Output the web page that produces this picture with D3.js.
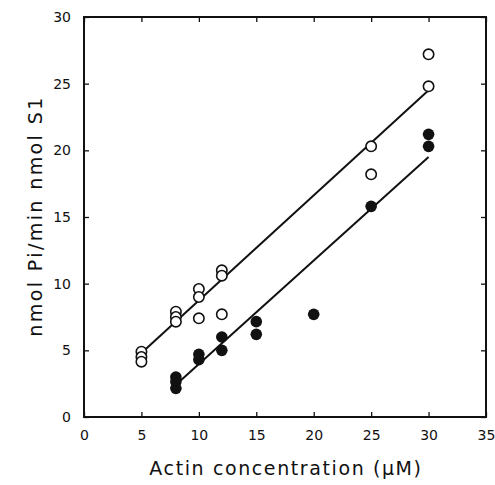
<!DOCTYPE html>
<html lang="en">
    <head>
        <meta charset="utf-8">
        <title>Actin ATPase</title>
        <script src="https://d3js.org/d3.v7.min.js"></script>
        <style type="text/css">
            body { margin: 0; background: #fff; }
            text { font-family: "DejaVu Sans", sans-serif; fill: #111; }
        </style>
    </head>
    <body>
        <script type="text/javascript">

            //consts
            const w = 495;
            const h = 485;
            const mLeft = 84, mRight = 486, mTop = 17, mBottom = 417;

            //data
            const openX = [5, 5, 5, 8, 8, 8, 10, 10, 10, 12, 12, 12, 25, 25, 30, 30];
            const openY = [4.9, 4.5, 4.15, 7.9, 7.5, 7.15, 9.6, 9.0, 7.4, 11.0, 10.6, 7.7, 20.3, 18.2, 27.2, 24.8];
            const filledX = [8, 8, 8, 10, 10, 12, 12, 15, 15, 20, 25, 30, 30];
            const filledY = [3.0, 2.65, 2.15, 4.7, 4.3, 6.0, 5.0, 7.15, 6.2, 7.7, 15.8, 21.2, 20.3];
            const openFit = [[5, 4.8], [30, 24.5]];
            const filledFit = [[8.1, 2.5], [30, 19.5]];
            const xTicks = [0, 5, 10, 15, 20, 25, 30, 35];
            const yTicks = [0, 5, 10, 15, 20, 25, 30];

            //scales
            const xScale = d3.scaleLinear().domain([0, 35]).range([mLeft, mRight]);
            const yScale = d3.scaleLinear().domain([0, 30]).range([mBottom, mTop]);

            //SVG
            const svg = d3.select("body")
                    .append("svg")
                    .attr("width", w)
                    .attr("height", h);

            //axes, ticks inward on all four sides
            const axisStyle = g => {
                g.select(".domain").remove();
                g.selectAll("line").attr("stroke", "#111").attr("stroke-width", 1.3);
                g.selectAll("text").style("font-size", "14px");
            };

            svg.append("g")
               .attr("transform", "translate(0," + mBottom + ")")
               .call(d3.axisBottom(xScale).tickValues(xTicks).tickSizeInner(-5).tickSizeOuter(0).tickPadding(13))
               .call(axisStyle);

            svg.append("g")
               .attr("transform", "translate(0," + mTop + ")")
               .call(d3.axisTop(xScale).tickValues(xTicks).tickSizeInner(-5).tickSizeOuter(0).tickFormat(""))
               .call(axisStyle);

            svg.append("g")
               .attr("transform", "translate(" + mLeft + ",0)")
               .call(d3.axisLeft(yScale).tickValues(yTicks).tickSizeInner(-5).tickSizeOuter(0).tickPadding(13))
               .call(axisStyle);

            svg.append("g")
               .attr("transform", "translate(" + mRight + ",0)")
               .call(d3.axisRight(yScale).tickValues(yTicks).tickSizeInner(-5).tickSizeOuter(0).tickFormat(""))
               .call(axisStyle);

            //frame
            svg.append("rect")
               .attr("x", mLeft)
               .attr("y", mTop)
               .attr("width", mRight - mLeft)
               .attr("height", mBottom - mTop)
               .attr("fill", "none")
               .attr("stroke", "#111")
               .attr("stroke-width", 2);

            //fit lines
            const line = d3.line().x(d => xScale(d[0])).y(d => yScale(d[1]));
            [openFit, filledFit].forEach(f => {
                svg.append("path")
                   .attr("d", line(f))
                   .attr("fill", "none")
                   .attr("stroke", "#111")
                   .attr("stroke-width", 2);
            });

            //points
            svg.selectAll("circle.open")
               .data(openX)
               .enter()
               .append("circle")
               .attr("class", "open")
               .attr("cx", d => xScale(d))
               .attr("cy", (d, i) => yScale(openY[i]))
               .attr("r", 5.2)
               .attr("fill", "#fff")
               .attr("stroke", "#111")
               .attr("stroke-width", 1.6);

            svg.selectAll("circle.filled")
               .data(filledX)
               .enter()
               .append("circle")
               .attr("class", "filled")
               .attr("cx", d => xScale(d))
               .attr("cy", (d, i) => yScale(filledY[i]))
               .attr("r", 5.8)
               .attr("fill", "#111");

            //labels
            svg.append("text")
               .attr("x", 286)
               .attr("y", 475)
               .attr("text-anchor", "middle")
               .style("font-size", "19px")
               .style("letter-spacing", "1.6px")
               .text("Actin concentration (\u03bcM)");

            svg.append("text")
               .attr("transform", "translate(42,216) rotate(-90)")
               .attr("text-anchor", "middle")
               .style("font-size", "19px")
               .style("letter-spacing", "2.4px")
               .text("nmol Pi/min nmol S1");

        </script>
    </body>
</html>
